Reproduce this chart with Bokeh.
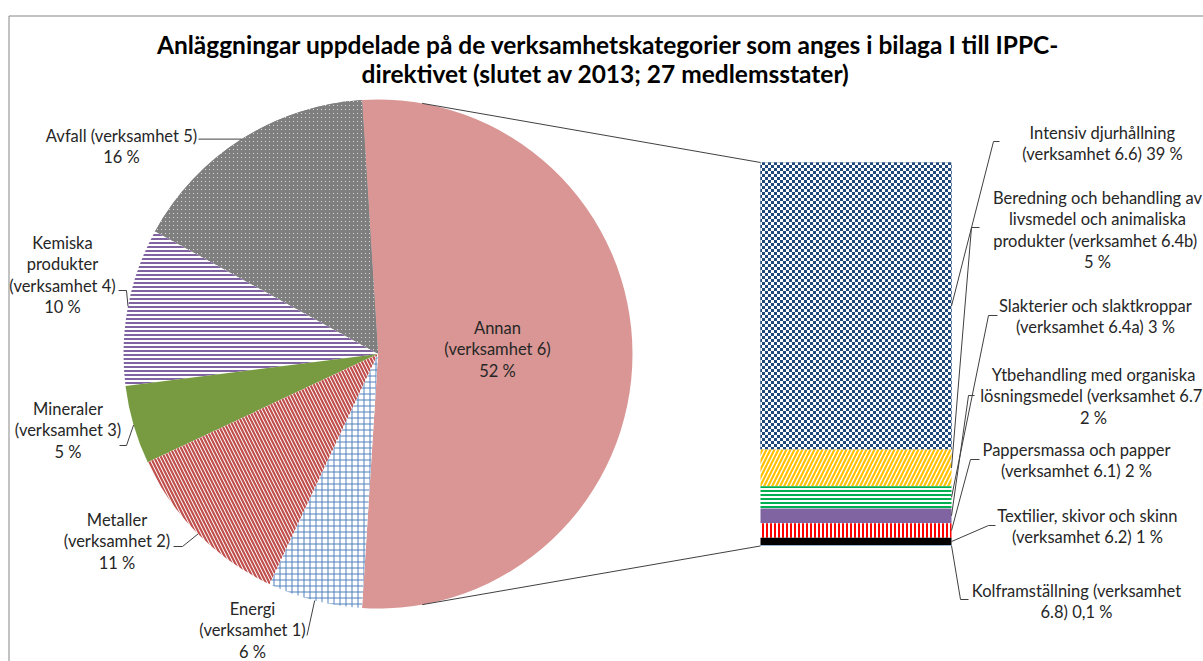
import base64
import math
import struct
import zlib

from bokeh.core.properties import value
from bokeh.embed import file_html
from bokeh.models import ImageURLTexture, Range1d
from bokeh.plotting import figure
from bokeh.resources import INLINE

# ---------------- data ----------------
title_lines = [
    "Anläggningar uppdelade på de verksamhetskategorier som anges i bilaga I till IPPC-",
    "direktivet (slutet av 2013; 27 medlemsstater)",
]

pie_categories = ["Annan", "Avfall", "Kemiska produkter", "Mineraler", "Metaller", "Energi"]
pie_values = [52, 16, 10, 5, 11, 6]
pie_label_lines = [
    ["Annan", "(verksamhet 6)", "{pct}"],
    ["Avfall (verksamhet 5)", "{pct}"],
    ["Kemiska", "produkter", "(verksamhet 4)", "{pct}"],
    ["Mineraler", "(verksamhet 3)", "{pct}"],
    ["Metaller", "(verksamhet 2)", "{pct}"],
    ["Energi", "(verksamhet 1)", "{pct}"],
]

bar_categories = [
    "Intensiv djurhållning",
    "Beredning och behandling av livsmedel och animaliska produkter",
    "Slakterier och slaktkroppar",
    "Ytbehandling med organiska lösningsmedel",
    "Pappersmassa och papper",
    "Textilier, skivor och skinn",
    "Kolframställning",
]
bar_values = [39, 5, 3, 2, 2, 1, 0.1]
bar_label_lines = [
    ["Intensiv djurhållning", "(verksamhet 6.6) {pct}"],
    ["Beredning och behandling av", "livsmedel och animaliska", "produkter  (verksamhet 6.4b)", "{pct}"],
    ["Slakterier och slaktkroppar", "(verksamhet 6.4a) {pct}"],
    ["Ytbehandling med organiska", "lösningsmedel (verksamhet 6.7)", "{pct}"],
    ["Pappersmassa och papper", "(verksamhet 6.1) {pct}"],
    ["Textilier, skivor och skinn", "(verksamhet 6.2) {pct}"],
    ["Kolframställning (verksamhet", "6.8) {pct}"],
]


def fmt_pct(v):
    return ("%g" % v).replace(".", ",") + " %"


# ---------------- textures ----------------
def png_url(rows):
    h = len(rows)
    w = len(rows[0])
    raw = b"".join(b"\x00" + bytes([c for px in row for c in px]) for row in rows)

    def chunk(tag, data):
        return struct.pack(">I", len(data)) + tag + data + struct.pack(">I", zlib.crc32(tag + data) & 0xFFFFFFFF)

    png = (b"\x89PNG\r\n\x1a\n"
           + chunk(b"IHDR", struct.pack(">IIBBBBB", w, h, 8, 2, 0, 0, 0))
           + chunk(b"IDAT", zlib.compress(raw))
           + chunk(b"IEND", b""))
    return "data:image/png;base64," + base64.b64encode(png).decode()


def hexrgb(c):
    c = c.lstrip("#")
    return tuple(int(c[i:i + 2], 16) for i in (0, 2, 4))


BLUE_DK = hexrgb("#1F497D")
WHITE = (255, 255, 255)
checker_rows = [[BLUE_DK if ((x // 3) + (y // 3)) % 2 == 0 else WHITE for x in range(6)] for y in range(6)]
GRAY = hexrgb("#7F7F7F")
DOTW = hexrgb("#D9D9D9")
dot_rows = [[DOTW if (x == 1 and y == 1) else GRAY for x in range(4)] for y in range(4)]

checker_tex = ImageURLTexture(url=png_url(checker_rows))
dot_tex = ImageURLTexture(url=png_url(dot_rows))

# ---------------- styles ----------------
pie_styles = [
    dict(fill_color="#D99694"),
    dict(fill_color="#7F7F7F", hatch_pattern=value("dots"), hatch_extra={"dots": dot_tex}),
    dict(fill_color="white", hatch_pattern="horizontal_line", hatch_color="#8064A2", hatch_scale=4, hatch_weight=2),
    dict(fill_color="#789B42"),
    dict(fill_color="white", hatch_pattern="left_diagonal_line", hatch_color="#C0504D", hatch_scale=7, hatch_weight=2.2),
    dict(fill_color="white", hatch_pattern="cross", hatch_color="#4F81BD", hatch_scale=6, hatch_weight=1),
]
bar_styles = [
    dict(fill_color="#1F497D", hatch_pattern=value("checker"), hatch_extra={"checker": checker_tex}),
    dict(fill_color="white", hatch_pattern="right_diagonal_line", hatch_color="#FFC000", hatch_scale=8, hatch_weight=2.2),
    dict(fill_color="white", hatch_pattern="horizontal_line", hatch_color="#00B050", hatch_scale=4, hatch_weight=2),
    dict(fill_color="#8064A2"),
    dict(fill_color="white", hatch_pattern="vertical_line", hatch_color="#FF0000", hatch_scale=4, hatch_weight=2),
    dict(fill_color="#000000"),
    dict(fill_color="#95B3D7"),
]

# ---------------- layout (image pixel coords, y down) ----------------
W_IMG, H_IMG = 1203, 661
PIE_CX, PIE_CY, PIE_R = 377.5, 353.5, 254.5
BAR_L, BAR_R, BAR_TOP = 760, 951, 162
BAR_PX_PER_PCT = 7.36
LINE_H = 21.6
CONNECT_ANGLE = math.radians(80)

pie_label_pos = [(497, 327), (121, 135), (62, 242), (67.5, 408), (116.5, 519), (252, 608)]
pie_leader_tail = [
    None,
    [(198, None)],
    [(126, 290), (118, 290)],
    [(126, 445), (119, 445)],
    [(182, 546), (173, 546)],
    [(306.5, 635)],
]
bar_label_pos = [(1102, 132), (1097, 197), (1095, 305), (1093, 374), (1076, 449), (1087, 515), (1076, 590)]
bar_leader_tail = [
    [(993, 141), (999, 141)],
    [(971, 227), (979, 227)],
    [(988, 315), (997, 315)],
    [(968, 395), (974, 395)],
    [(970, 459), (979, 459)],
    [(988, 525), (995, 525)],
    [(960, 599), (968, 599)],
]


def Y(iy):
    return H_IMG - iy


# ---------------- figure ----------------
p = figure(width=W_IMG, height=H_IMG, x_range=Range1d(0, W_IMG), y_range=Range1d(0, H_IMG),
           output_backend="svg", toolbar_location=None, min_border=0,
           x_axis_type=None, y_axis_type=None)
p.outline_line_color = None
p.background_fill_color = "white"
p.border_fill_color = "white"

# chart-area border (top and left edges visible)
p.segment(x0=[8.5, 8.5], y0=[Y(15.5), Y(15.5)], x1=[W_IMG, 8.5], y1=[Y(15.5), 0],
          line_color="#868686", line_width=1)

# pie
total = float(sum(pie_values))
angles = [v / total * 2 * math.pi for v in pie_values]
start = -angles[0] / 2
mids = []
for a, st in zip(angles, pie_styles):
    p.wedge(x=[PIE_CX], y=[Y(PIE_CY)], radius=PIE_R, start_angle=[start], end_angle=[start + a],
            direction="anticlock", line_color=None, **st)
    mids.append(start + a / 2)
    start += a

# bar of "Annan"
cum = 0.0
bar_mids = []
for v, st in zip(bar_values, bar_styles):
    top = BAR_TOP + cum * BAR_PX_PER_PCT
    bot = BAR_TOP + (cum + v) * BAR_PX_PER_PCT
    p.quad(left=[BAR_L], right=[BAR_R], top=[Y(top)], bottom=[Y(bot)], line_color=None, **st)
    bar_mids.append((top + bot) / 2)
    cum += v
bar_bottom = BAR_TOP + cum * BAR_PX_PER_PCT

# connector lines pie -> bar
px_top = PIE_CX + PIE_R * math.cos(CONNECT_ANGLE)
py_top = PIE_CY - PIE_R * math.sin(CONNECT_ANGLE)
py_bot = PIE_CY + PIE_R * math.sin(CONNECT_ANGLE)
p.segment(x0=[px_top, px_top], y0=[Y(py_top), Y(py_bot)], x1=[BAR_L, BAR_L], y1=[Y(BAR_TOP), Y(bar_bottom)],
          line_color="#404040", line_width=1)

# leader lines
lx, ly = [], []
for m, tail in zip(mids, pie_leader_tail):
    if tail is None:
        continue
    ax = PIE_CX + PIE_R * math.cos(m)
    ay = PIE_CY - PIE_R * math.sin(m)
    xs, ys = [ax], [Y(ay)]
    for tx_, ty_ in tail:
        xs.append(tx_)
        ys.append(Y(ay if ty_ is None else ty_))
    lx.append(xs)
    ly.append(ys)
for my, tail in zip(bar_mids, bar_leader_tail):
    xs, ys = [BAR_R], [Y(my)]
    for tx_, ty_ in tail:
        xs.append(tx_)
        ys.append(Y(ty_))
    lx.append(xs)
    ly.append(ys)
p.multi_line(xs=lx, ys=ly, line_color="#404040", line_width=1)

# labels
tx, ty, tt = [], [], []
for lines, v, (cx, cy) in list(zip(pie_label_lines, pie_values, pie_label_pos)) + list(zip(bar_label_lines, bar_values, bar_label_pos)):
    for k, ln in enumerate(lines):
        tx.append(cx)
        ty.append(Y(cy + k * LINE_H))
        tt.append(ln.replace("{pct}", fmt_pct(v)))
p.text(x=tx, y=ty, text=tt, text_align="center", text_baseline="middle",
       text_font=value("Lato"), text_font_size="16.5px", text_color="#262626")

# title
p.text(x=[608, 605], y=[Y(44), Y(73)], text=title_lines, text_align="center", text_baseline="middle",
       text_font=value("Lato"), text_font_size="24.5px", text_font_style="bold", text_color="#000000")

open("out.html", "w").write(file_html(p, INLINE))
